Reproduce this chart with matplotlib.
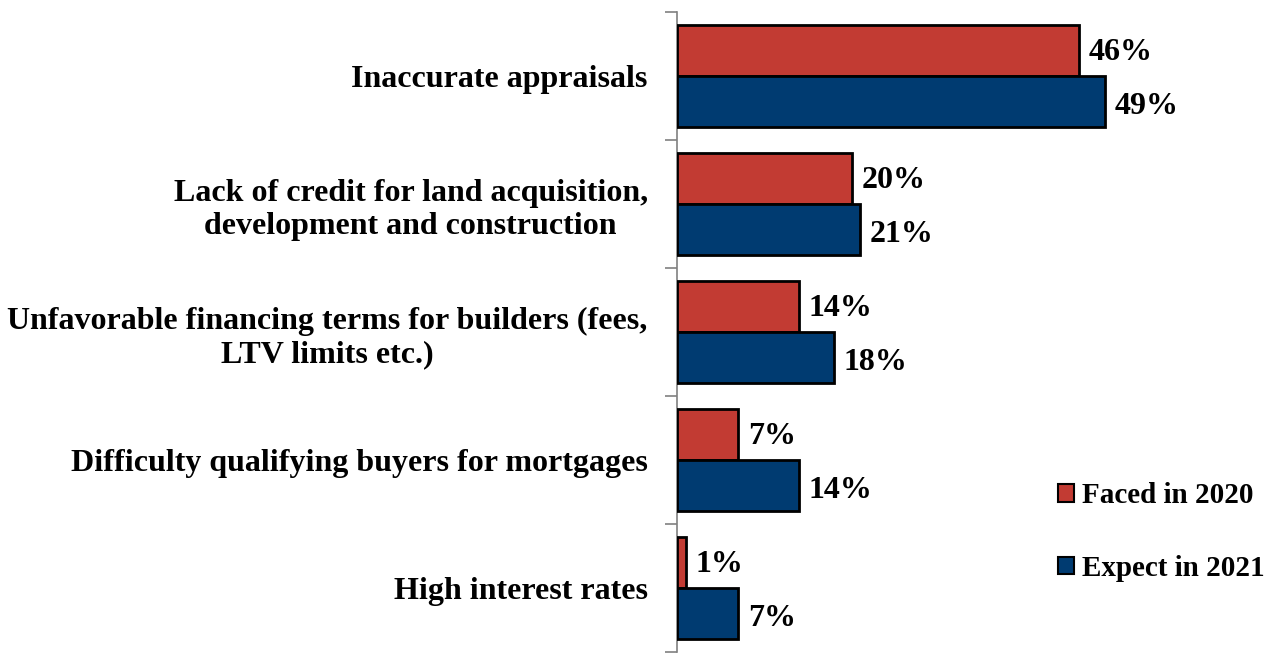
import matplotlib.pyplot as plt
from matplotlib.patches import Patch
import numpy as np

categories = ['Inaccurate appraisals',
              'Lack of credit for land acquisition,\ndevelopment and construction',
              'Unfavorable financing terms for builders (fees,\nLTV limits etc.)',
              'Difficulty qualifying buyers for mortgages',
              'High interest rates']
faced_2020 = [46, 20, 14, 7, 1]
expect_2021 = [49, 21, 18, 14, 7]
series_names = ['Faced in 2020', 'Expect in 2021']

red = '#C23B33'
blue = '#003B71'

plt.rcParams['font.family'] = ['Liberation Serif', 'DejaVu Serif']
plt.rcParams['font.weight'] = 'bold'

fig = plt.figure(figsize=(12.69, 6.54), dpi=100)
W, H = 1269, 654
ax = fig.add_axes([677 / W, 2 / H, 524 / W, 640 / H])

y = np.arange(len(categories))
h = 0.4
ax.barh(y - h / 2, faced_2020, height=h, color=red, edgecolor='black', linewidth=2, zorder=3)
ax.barh(y + h / 2, expect_2021, height=h, color=blue, edgecolor='black', linewidth=2, zorder=3)

for i in range(len(categories)):
    ax.text(faced_2020[i] + 1.1, y[i] - h / 2 + 0.02, '%d%%' % faced_2020[i],
            va='center', ha='left', fontsize=23, fontweight='bold')
    ax.text(expect_2021[i] + 1.1, y[i] + h / 2 + 0.04, '%d%%' % expect_2021[i],
            va='center', ha='left', fontsize=23, fontweight='bold')

ax.set_xlim(0, 60)
ax.set_ylim(len(categories) - 0.5, -0.5)

# boundary ticks, labels at centres (Excel style)
ax.set_yticks(np.arange(len(categories) + 1) - 0.5)
ax.set_yticklabels([])
ax.tick_params(axis='y', which='major', length=9, width=1.2, color='#808080')
ax.set_yticks(y, minor=True)
ax.set_yticklabels(categories, minor=True, fontsize=23, fontweight='bold',
                   multialignment='center', linespacing=1.22)
ax.tick_params(axis='y', which='minor', length=0, pad=21)

ax.set_xticks([])
for s in ['top', 'right', 'bottom']:
    ax.spines[s].set_visible(False)
ax.spines['left'].set_color('#808080')
ax.spines['left'].set_linewidth(1.2)

handles = [Patch(facecolor=red, edgecolor='black', linewidth=1.5),
           Patch(facecolor=blue, edgecolor='black', linewidth=1.5)]
fig.legend(handles, series_names, loc='center left',
           bbox_to_anchor=(1032 / W, 1 - 532 / H), frameon=False,
           handlelength=0.55, handleheight=0.55,
           handletextpad=0.25, labelspacing=1.57,
           prop={'weight': 'bold', 'size': 21})

fig.savefig('out.png', dpi=100)
